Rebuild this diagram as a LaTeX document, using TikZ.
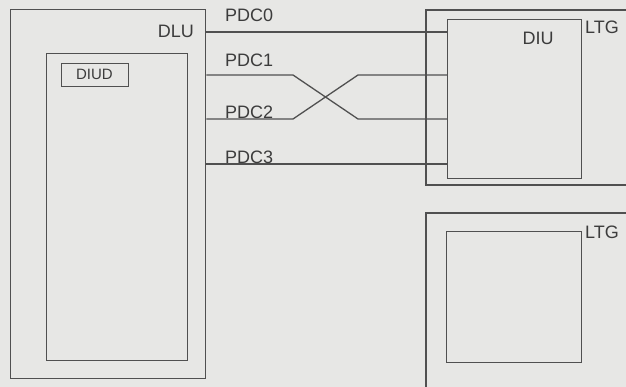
\documentclass[tikz,border=0pt]{standalone}
\usepackage{fontspec}
\setmainfont{Liberation Sans}
\definecolor{bg}{RGB}{231,231,229}
\definecolor{ln}{RGB}{80,80,80}
\definecolor{tx}{RGB}{60,60,60}
\tikzset{
  box/.style={draw=ln, line width=1.3pt, rectangle, inner sep=0pt, anchor=north west},
  wire/.style={draw=ln, line width=1.3pt},
  lbl/.style={text=tx, inner sep=0pt, font=\fontsize{18}{20}\selectfont},
  small/.style={text=tx, inner sep=0pt, font=\fontsize{15}{17}\selectfont}
}
\begin{document}
\begin{tikzpicture}[x=1pt,y=-1pt]
\useasboundingbox[fill=bg] (0,0) rectangle (626,387);
% DLU
\node[box, minimum width=195pt, minimum height=369pt] (dlu) at (10,9) {};
\node[box, minimum width=141pt, minimum height=307pt] (inner) at (46,53) {};
\node[box, minimum width=67pt, minimum height=23pt] (diud) at (61,63) {};
\node[small, anchor=base] (diudt) at (94.5,80) {DIUD};
\node[lbl, anchor=base east] (dlut) at (194,37.5) {DLU};
% LTG 1
\draw[wire] (628,10) -- (426,10) -- (426,185) -- (628,185);
\node[box, minimum width=134pt, minimum height=159pt] (diu) at (447,19) {};
\node[lbl, anchor=base] (diut) at (538,44.5) {DIU};
\node[lbl, anchor=base west] (ltg1) at (585,33.5) {LTG};
% LTG 2
\draw[wire] (628,213) -- (426,213) -- (426,390);
\node[box, minimum width=135pt, minimum height=131pt] (ltgin) at (446,231) {};
\node[lbl, anchor=base west] (ltg2) at (585,238.5) {LTG};
% wires
\coordinate (y0) at (0,32);
\coordinate (y1) at (0,75);
\coordinate (y2) at (0,119);
\coordinate (y3) at (0,164);
\draw[wire] (dlu.east |- y0) -- (diu.west |- y0);
\draw[wire] (dlu.east |- y1) -- (293,75) -- (358,119) -- (diu.west |- y2);
\draw[wire] (dlu.east |- y2) -- (293,119) -- (358,75) -- (diu.west |- y1);
\draw[wire] (dlu.east |- y3) -- (diu.west |- y3);
\node[lbl, anchor=base west] (p0) at (225,21.5) {PDC0};
\node[lbl, anchor=base west] (p1) at (225,66.5) {PDC1};
\node[lbl, anchor=base west] (p2) at (225,118.5) {PDC2};
\node[lbl, anchor=base west] (p3) at (225,163.5) {PDC3};
\end{tikzpicture}
\end{document}
